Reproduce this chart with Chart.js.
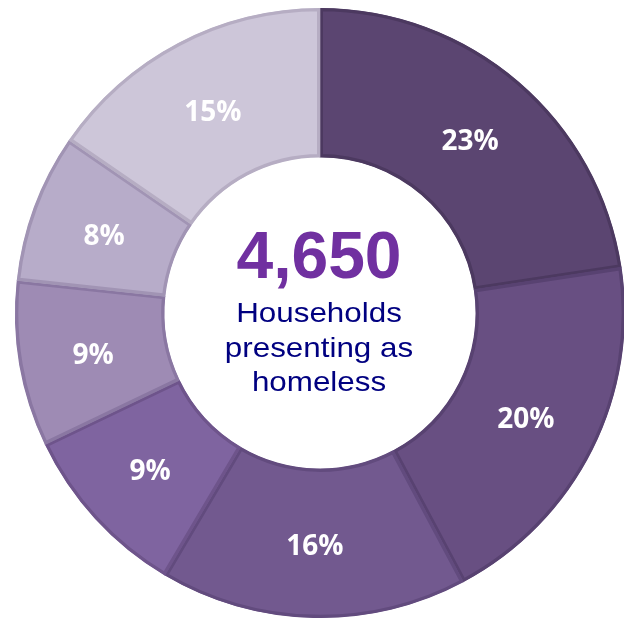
<!DOCTYPE html>
<html>
<head>
<meta charset="utf-8">
<script src="https://cdn.jsdelivr.net/npm/chart.js@4"></script>
<style>
  html, body { margin: 0; padding: 0; background: #ffffff; }
  #wrap { position: relative; width: 624px; height: 618px; }
</style>
</head>
<body>
<div id="wrap"><canvas id="c"></canvas></div>
<script>
// Data (clockwise from 12 o'clock); slice sizes
const categories = ['Group 1', 'Group 2', 'Group 3', 'Group 4', 'Group 5', 'Group 6', 'Group 7'];
const shares = [22.6, 19.6, 16.3, 9.4, 8.8, 7.9, 15.4];
const sliceLabels = ['23%', '20%', '16%', '9%', '9%', '8%', '15%'];
const centreValue = '4,650';
const centreLines = ['Households', 'presenting as', 'homeless'];

const fillColours = ['#5B4571', '#684F82', '#72598F', '#7F64A0', '#9E8BB4', '#B7ACC9', '#CDC6D9'];
const borderColours = ['#4C3960', '#584271', '#624B7E', '#6E548B', '#8A77A2', '#A194B4', '#B6ADC3'];

const sliceLabelPlugin = {
  id: 'sliceLabels',
  afterDatasetsDraw(chart) {
    const ctx = chart.ctx;
    const meta = chart.getDatasetMeta(0);
    ctx.save();
    ctx.fillStyle = '#FFFFFF';
    ctx.font = 'bold 28px "Open Sans", "Liberation Sans", sans-serif';
    ctx.textAlign = 'center';
    ctx.textBaseline = 'middle';
    meta.data.forEach((arc, i) => {
      const p = arc.tooltipPosition();
      ctx.fillText(sliceLabels[i], p.x, p.y + 4);
    });
    ctx.restore();
  }
};

const centrePlugin = {
  id: 'centreText',
  afterDraw(chart) {
    const ctx = chart.ctx;
    const meta = chart.getDatasetMeta(0);
    const arc = meta.data[0];
    const cx = arc.x - 1, cy = arc.y;
    ctx.save();
    ctx.textAlign = 'center';
    ctx.textBaseline = 'alphabetic';
    ctx.fillStyle = '#7030A0';
    ctx.font = 'bold 66px "Liberation Sans", Arial, sans-serif';
    ctx.fillText(centreValue, cx, cy - 35);
    ctx.fillStyle = '#000080';
    ctx.font = '28px "Liberation Sans", Arial, sans-serif';
    centreLines.forEach((line, i) => {
      ctx.save();
      ctx.translate(cx, cy + 9 + i * 34.5);
      ctx.scale(1.12, 1);
      ctx.fillText(line, 0, 0);
      ctx.restore();
    });
    ctx.restore();
  }
};

new Chart(document.getElementById('c'), {
  type: 'doughnut',
  data: {
    labels: categories,
    datasets: [{
      data: shares,
      backgroundColor: fillColours,
      borderColor: borderColours,
      borderWidth: 3,
      borderAlign: 'inner',
      hoverOffset: 0,
      clip: false
    }]
  },
  options: {
    responsive: true,
    maintainAspectRatio: false,
    animation: false,
    radius: 305,
    cutout: '51%',
    rotation: 0,
    layout: { padding: { left: 16, top: 8, right: 0, bottom: 0 } },
    plugins: {
      legend: { display: false },
      tooltip: { enabled: false }
    }
  },
  plugins: [sliceLabelPlugin, centrePlugin]
});
</script>
</body>
</html>
